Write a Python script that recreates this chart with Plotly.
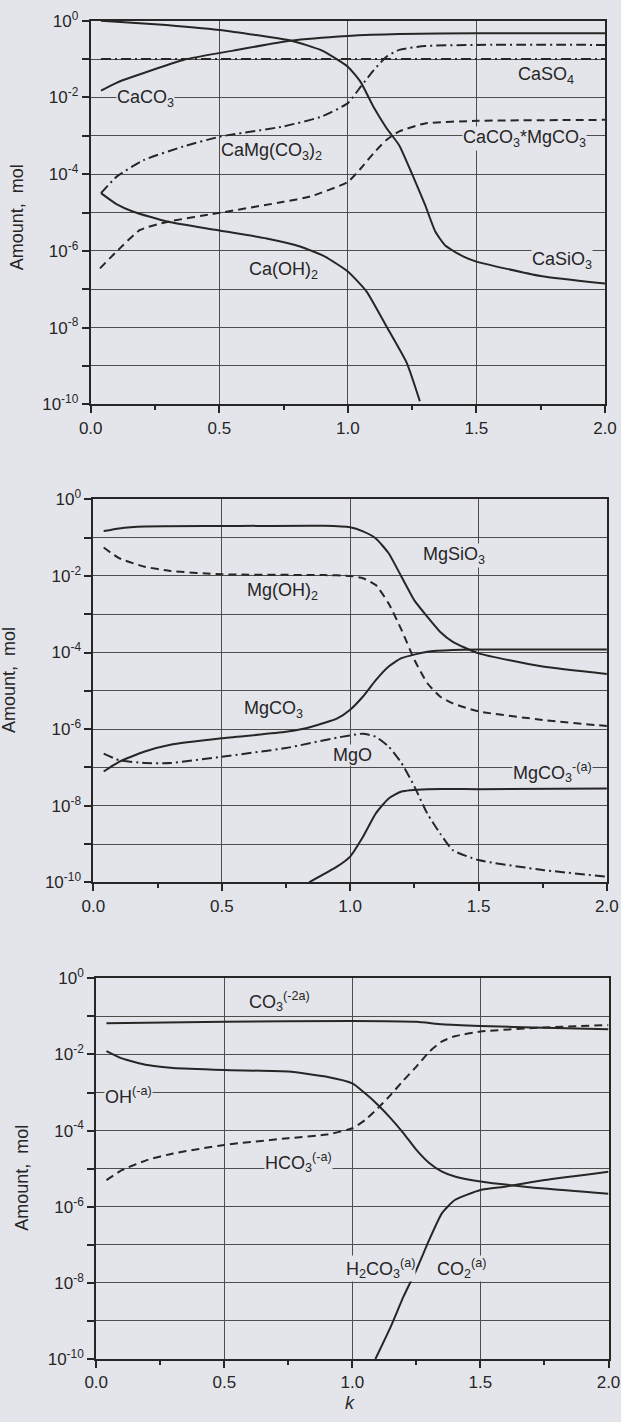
import plotly.graph_objects as go

# ---------------- Panel 1 : Ca compounds ----------------
k_casio3 = [0.04, 0.25, 0.5, 0.78, 0.9, 1.0, 1.05, 1.1, 1.15, 1.2, 1.25, 1.3, 1.34, 1.38, 1.45, 1.5, 1.75, 2.0]
casio3 = [1.0, 0.81, 0.575, 0.30, 0.166, 0.063, 0.025, 5.6e-3, 1.6e-3, 5.6e-4, 1.0e-4, 1.6e-5, 3.2e-6,
          1.35e-6, 7.1e-7, 5.25e-7, 2.2e-7, 1.4e-7]

k_caco3 = [0.04, 0.1, 0.166, 0.36, 0.554, 0.775, 1.0, 1.2, 1.5, 2.0]
caco3 = [0.015, 0.024, 0.035, 0.095, 0.166, 0.30, 0.40, 0.45, 0.47, 0.47]

k_caso4 = [0.04, 2.0]
caso4 = [0.1, 0.1]

k_camg = [0.04, 0.1, 0.205, 0.36, 0.503, 0.749, 0.9, 1.0, 1.05, 1.1, 1.15, 1.2, 1.3, 1.5, 2.0]
camg = [3.2e-5, 8.5e-5, 2.3e-4, 5.25e-4, 9.5e-4, 1.75e-3, 3.2e-3, 7.1e-3, 0.019, 0.051, 0.115, 0.174,
        0.219, 0.234, 0.234]

k_cacomg = [0.036, 0.1, 0.192, 0.3, 0.49, 0.75, 0.853, 1.0, 1.05, 1.1, 1.15, 1.2, 1.3, 1.5, 2.0]
cacomg = [3.5e-7, 9.5e-7, 3.5e-6, 5.75e-6, 9.5e-6, 1.9e-5, 2.6e-5, 6.3e-5, 1.4e-4, 3.5e-4, 7.8e-4,
          1.3e-3, 2.1e-3, 2.45e-3, 2.6e-3]

k_caoh2 = [0.04, 0.1, 0.166, 0.3, 0.49, 0.684, 0.814, 0.911, 1.0, 1.073, 1.151, 1.229, 1.28]
caoh2 = [3.2e-5, 1.66e-5, 1.05e-5, 5.75e-6, 3.5e-6, 2.1e-6, 1.3e-6, 7.1e-7, 2.9e-7, 8.7e-8, 1.05e-8,
         1.2e-9, 1.2e-10]

# ---------------- Panel 2 : Mg compounds ----------------
k_mgsio3 = [0.04, 0.1, 0.2, 0.5, 0.9, 1.0, 1.05, 1.1, 1.15, 1.2, 1.25, 1.3, 1.35, 1.4, 1.5, 1.75, 2.0]
mgsio3 = [0.148, 0.174, 0.195, 0.20, 0.204, 0.186, 0.145, 0.095, 0.039, 9.5e-3, 2.3e-3, 8.7e-4, 3.5e-4,
          1.9e-4, 9.5e-5, 4.3e-5, 2.75e-5]

k_mgoh2 = [0.04, 0.1, 0.2, 0.3, 0.5, 0.9, 1.0, 1.05, 1.1, 1.15, 1.2, 1.25, 1.3, 1.35, 1.4, 1.5, 1.75, 2.0]
mgoh2 = [0.055, 0.029, 0.0174, 0.0135, 0.011, 0.0105, 0.010, 8.7e-3, 5.75e-3, 1.9e-3, 3.9e-4, 6.5e-5,
         1.6e-5, 7.1e-6, 4.7e-6, 2.9e-6, 1.74e-6, 1.2e-6]

k_mgco3 = [0.04, 0.1, 0.2, 0.3, 0.5, 0.75, 0.85, 0.95, 1.0, 1.05, 1.1, 1.15, 1.2, 1.3, 1.4, 1.5, 2.0]
mgco3 = [7.8e-8, 1.4e-7, 2.6e-7, 3.9e-7, 5.75e-7, 8.5e-7, 1.15e-6, 1.9e-6, 3.2e-6, 7.1e-6, 1.9e-5,
         4.3e-5, 7.1e-5, 1.05e-4, 1.17e-4, 1.2e-4, 1.2e-4]

k_mgo = [0.04, 0.1, 0.2, 0.3, 0.5, 0.75, 0.95, 1.05, 1.1, 1.15, 1.2, 1.25, 1.3, 1.35, 1.4, 1.5, 1.75, 2.0]
mgo = [2.3e-7, 1.55e-7, 1.3e-7, 1.3e-7, 1.9e-7, 3.2e-7, 6.0e-7, 7.6e-7, 6.3e-7, 3.5e-7, 1.3e-7, 3.2e-8,
       6.3e-9, 1.9e-9, 6.9e-10, 3.8e-10, 2.1e-10, 1.4e-10]

k_mgco3a = [0.84, 0.95, 1.0, 1.05, 1.1, 1.15, 1.2, 1.3, 1.5, 2.0]
mgco3a = [1e-10, 2.6e-10, 4.7e-10, 1.55e-9, 6.3e-9, 1.55e-8, 2.35e-8, 2.7e-8, 2.7e-8, 2.8e-8]

# ---------------- Panel 3 : aqueous species ----------------
k_co3 = [0.04, 0.5, 1.0, 1.25, 1.35, 1.5, 1.75, 2.0]
co3 = [0.066, 0.072, 0.076, 0.072, 0.062, 0.056, 0.050, 0.046]

k_aq = [0.04, 0.1, 0.2, 0.3, 0.5, 0.75, 0.9, 1.0, 1.05, 1.1, 1.15, 1.2, 1.25, 1.3, 1.35, 1.4, 1.5, 1.75, 2.0]
hco3 = [5.0e-6, 9.1e-6, 1.7e-5, 2.5e-5, 4.2e-5, 6.3e-5, 7.9e-5, 1.15e-4, 1.9e-4, 3.9e-4, 8.7e-4, 2.1e-3,
        4.8e-3, 0.0117, 0.022, 0.030, 0.040, 0.051, 0.059]
oh = [0.0123, 7.9e-3, 5.25e-3, 4.4e-3, 3.9e-3, 3.55e-3, 2.6e-3, 1.74e-3, 9.5e-4, 4.7e-4, 2.1e-4, 8.5e-5,
      3.1e-5, 1.4e-5, 8.3e-6, 6.2e-6, 4.6e-6, 3.0e-6, 2.2e-6]

k_h2co3 = [1.09, 1.15, 1.2, 1.25, 1.3, 1.35, 1.4, 1.5, 1.6, 1.75, 2.0]
h2co3 = [1e-10, 7.1e-10, 4.4e-9, 2.2e-8, 1.35e-7, 6.8e-7, 1.5e-6, 2.75e-6, 3.4e-6, 5.0e-6, 8.3e-6]

y_label_exponents = [0, -2, -4, -6, -8, -10]
y_minor_exponents = [-1, -3, -5, -7, -9]
x_ticks = [0.0, 0.5, 1.0, 1.5, 2.0]
x_ticktext = ["0.0", "0.5", "1.0", "1.5", "2.0"]
x_minor = [0.25, 0.75, 1.25, 1.75]

# ---------------- styling ----------------
W, H = 621, 1422
BG = "#e4e5eb"
INK = "#262626"
GRID = "#4d4d4d"
FONT = "Liberation Sans, Arial, Helvetica, sans-serif"

SOLID = "solid"
DASH = "8px,5px"
DASHDOT = "10px,4px,2px,4px"

fig = go.Figure()


def add(ax, k, v, dash):
    fig.add_trace(go.Scatter(
        x=k, y=v, mode="lines", xaxis="x" + ax, yaxis="y" + ax,
        line=dict(color=INK, width=2, dash=dash, shape="spline", smoothing=0.5),
        showlegend=False, hoverinfo="skip"))


add("", k_caso4, caso4, DASHDOT)
add("", k_casio3, casio3, SOLID)
add("", k_caco3, caco3, SOLID)
add("", k_camg, camg, DASHDOT)
add("", k_cacomg, cacomg, DASH)
add("", k_caoh2, caoh2, SOLID)

add("2", k_mgsio3, mgsio3, SOLID)
add("2", k_mgoh2, mgoh2, DASH)
add("2", k_mgco3, mgco3, SOLID)
add("2", k_mgo, mgo, DASHDOT)
add("2", k_mgco3a, mgco3a, SOLID)

add("3", k_co3, co3, SOLID)
add("3", k_aq, hco3, DASH)
add("3", k_aq, oh, SOLID)
add("3", k_h2co3, h2co3, SOLID)

# panel boxes in pixels: (left, right, top, bottom)
boxes = [(90.7, 605.0, 20.7, 404.3), (93.4, 606.9, 499.3, 882.3), (96.2, 608.5, 978.3, 1359.0)]

ytickvals = [10.0 ** e for e in y_label_exponents]
yticktext = ["10<sup>%d</sup>" % e for e in y_label_exponents]
yminorvals = [10.0 ** e for e in y_minor_exponents]

layout = dict(
    width=W, height=H, margin=dict(l=0, r=0, t=0, b=0, autoexpand=False),
    paper_bgcolor=BG, plot_bgcolor=BG, showlegend=False,
    font=dict(family=FONT, size=17, color=INK),
)
for i, (l, r, t, b) in enumerate(boxes):
    sfx = "" if i == 0 else str(i + 1)
    layout["xaxis" + sfx] = dict(
        domain=[l / W, r / W], range=[0, 2], anchor="y" + sfx, automargin=False,
        tickmode="array", tickvals=x_ticks, ticktext=x_ticktext,
        ticks="outside", ticklen=7, tickwidth=1.5, tickcolor=INK,
        showgrid=True, gridcolor=GRID, gridwidth=1, zeroline=False,
        showline=True, mirror=True, linecolor=INK, linewidth=2,
        minor=dict(tickvals=x_minor, ticks="outside", ticklen=4, tickwidth=1.5,
                   tickcolor=INK, showgrid=False),
        tickfont=dict(size=17, color=INK, family=FONT),
    )
    layout["yaxis" + sfx] = dict(
        domain=[1 - b / H, 1 - t / H], type="log", range=[-10, 0], anchor="x" + sfx,
        automargin=False,
        tickmode="array", tickvals=ytickvals, ticktext=yticktext,
        ticks="outside", ticklen=7, tickwidth=1.5, tickcolor=INK,
        showgrid=True, gridcolor=GRID, gridwidth=1, zeroline=False,
        showline=True, mirror=True, linecolor=INK, linewidth=2,
        minor=dict(tickvals=yminorvals, ticks="outside", ticklen=7, tickwidth=1.5,
                   tickcolor=INK, showgrid=True, gridcolor=GRID, gridwidth=1),
        tickfont=dict(size=17, color=INK, family=FONT),
    )
fig.update_layout(**layout)

labels = [
    ("", 0.215, -2.03, "CaCO<sub>3</sub>"),
    ("", 1.77, -1.44, "CaSO<sub>4</sub>"),
    ("", 0.704, -3.40, "CaMg(CO<sub>3</sub>)<sub>2</sub>"),
    ("", 1.686, -3.08, "CaCO<sub>3</sub>*MgCO<sub>3</sub>"),
    ("", 1.834, -6.24, "CaSiO<sub>3</sub>"),
    ("", 0.748, -6.52, "Ca(OH)<sub>2</sub>"),
    ("2", 1.406, -1.48, "MgSiO<sub>3</sub>"),
    ("2", 0.735, -2.42, "Mg(OH)<sub>2</sub>"),
    ("2", 0.703, -5.48, "MgCO<sub>3</sub>"),
    ("2", 1.01, -6.68, "MgO"),
    ("2", 1.79, -7.12, "MgCO<sub>3</sub><sup>-(a)</sup>"),
    ("3", 0.716, -0.62, "CO<sub>3</sub><sup>(-2a)</sup>"),
    ("3", 0.125, -3.07, "OH<sup>(-a)</sup>"),
    ("3", 0.79, -4.83, "HCO<sub>3</sub><sup>(-a)</sup>"),
    ("3", 1.11, -7.61, "H<sub>2</sub>CO<sub>3</sub><sup>(a)</sup>"),
    ("3", 1.428, -7.61, "CO<sub>2</sub><sup>(a)</sup>"),
]
for ax, x, y, txt in labels:
    fig.add_annotation(x=x, y=y, xref="x" + ax, yref="y" + ax, text=txt, showarrow=False,
                       font=dict(size=18, color=INK, family=FONT), bgcolor=BG, borderpad=0,
                       xanchor="center", yanchor="middle")

for (cx, cy) in [(17.8, 217.5), (9.0, 680.0), (21.8, 1178.0)]:
    fig.add_annotation(x=cx / W, y=1 - cy / H, xref="paper", yref="paper", text="Amount,  mol",
                       textangle=-90, showarrow=False, font=dict(size=18, color=INK, family=FONT),
                       xanchor="center", yanchor="middle")

fig.add_annotation(x=350 / W, y=1 - 1403 / H, xref="paper", yref="paper", text="<i>k</i>",
                   showarrow=False, font=dict(size=18, color=INK, family=FONT),
                   xanchor="center", yanchor="middle")

fig.write_html(
    "out.html",
    config={"displayModeBar": False},
    post_script="document.body.style.margin='0';document.body.style.overflow='hidden';"
                "document.body.style.background='" + BG + "';",
)
